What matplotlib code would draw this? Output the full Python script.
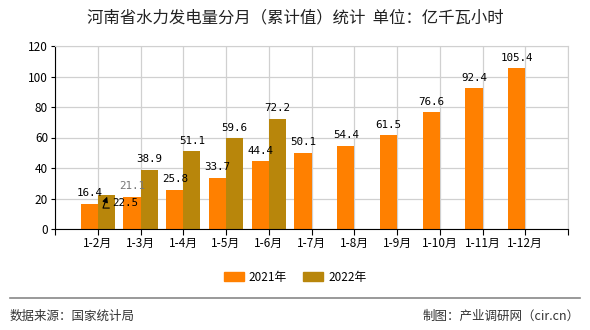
import matplotlib
matplotlib.use('Agg')
import numpy as np
import matplotlib.pyplot as plt
from matplotlib.patches import Patch

plt.rcParams['font.family'] = ['Noto Sans CJK SC', 'DejaVu Sans']

# data
months = ['1-2月', '1-3月', '1-4月', '1-5月', '1-6月', '1-7月', '1-8月',
          '1-9月', '1-10月', '1-11月', '1-12月']
v2021 = [16.4, 21.1, 25.8, 33.7, 44.4, 50.1, 54.4, 61.5, 76.6, 92.4, 105.4]
v2022 = [22.5, 38.9, 51.1, 59.6, 72.2]
series_names = ['2021年', '2022年']
yticks = [0, 20, 40, 60, 80, 100, 120]

c2021 = '#FF8000'
c2022 = '#B8860B'

fig = plt.figure(figsize=(5.9, 3.3), dpi=100)
ax = fig.add_axes([55/590, 1-229/330, (568-55)/590, (229-46)/330])

x = np.arange(1, len(months) + 1)
x22 = x[:len(v2022)]
w = 0.4
ax.bar(x - w/2, v2021, width=w, color=c2021, zorder=2)
ax.bar(x22 + w/2, v2022, width=w, color=c2022, zorder=2)

ax.set_xlim(0, 12)
ax.set_ylim(0, 120)
ax.set_yticks(yticks)
ax.set_xticks(np.arange(0, 13))
ax.set_xticklabels([''] + months + [''], fontsize=8.5)
ax.tick_params(axis='y', labelsize=8.5, length=3, pad=2)
ax.tick_params(axis='x', length=4, pad=2)
ax.grid(True, color='#d0d0d0', lw=0.9, zorder=0)
ax.set_axisbelow(True)
for s in ['top', 'right']:
    ax.spines[s].set_color('#d0d0d0')
ax.spines['left'].set_color('black')
ax.spines['bottom'].set_color('black')

lab_font = dict(family='DejaVu Sans Mono', fontsize=7.8)
for i, v in enumerate(v2021):
    col = '#777777' if i == 1 else 'black'
    ax.annotate(f'{v}', (x[i] - w/2, v), xytext=(0, 4), textcoords='offset points',
                ha='center', va='bottom', color=col, **lab_font)
for i, v in enumerate(v2022):
    if i == 0:
        # label pushed down beside its bar, with a leader line
        ax.annotate(f'{v}', xy=(x22[i] + 0.22, v - 1.3), xytext=(x22[i] + 0.64, v - 5.5),
                    ha='center', va='center', color='black',
                    arrowprops=dict(arrowstyle='-|>', color='black', lw=0.8,
                                    shrinkA=0, shrinkB=0, relpos=(1, 0),
                                    mutation_scale=8,
                                    connectionstyle='angle,angleA=180,angleB=70,rad=0'),
                    **lab_font)
        continue
    ax.annotate(f'{v}', (x22[i] + w/2, v), xytext=(0, 4), textcoords='offset points',
                ha='center', va='bottom', color='black', **lab_font)

# title
fig.text(0.5, 1-18/330, '河南省水力发电量分月（累计值）统计  单位：亿千瓦小时',
         ha='center', va='center', fontsize=11.8, color='#222222')

# legend
handles = [Patch(color=c2021), Patch(color=c2022)]
fig.legend(handles, series_names, loc='center', bbox_to_anchor=(0.5, 1-277/330),
           ncol=2, frameon=False, fontsize=8.5, handlelength=1.7, handleheight=0.8,
           columnspacing=1.4, handletextpad=0.4)

# footer
fig.add_artist(plt.Line2D([10/590, 580/590], [1-298/330, 1-298/330],
                          color='#888888', lw=1.2))
fig.text(10/590, 1-316/330, '数据来源：国家统计局', ha='left', va='center',
         fontsize=9, color='#333333')
fig.text(580/590, 1-316/330, '制图：产业调研网（cir.cn）', ha='right', va='center',
         fontsize=9, color='#333333')

fig.savefig('out.png', dpi=100)
